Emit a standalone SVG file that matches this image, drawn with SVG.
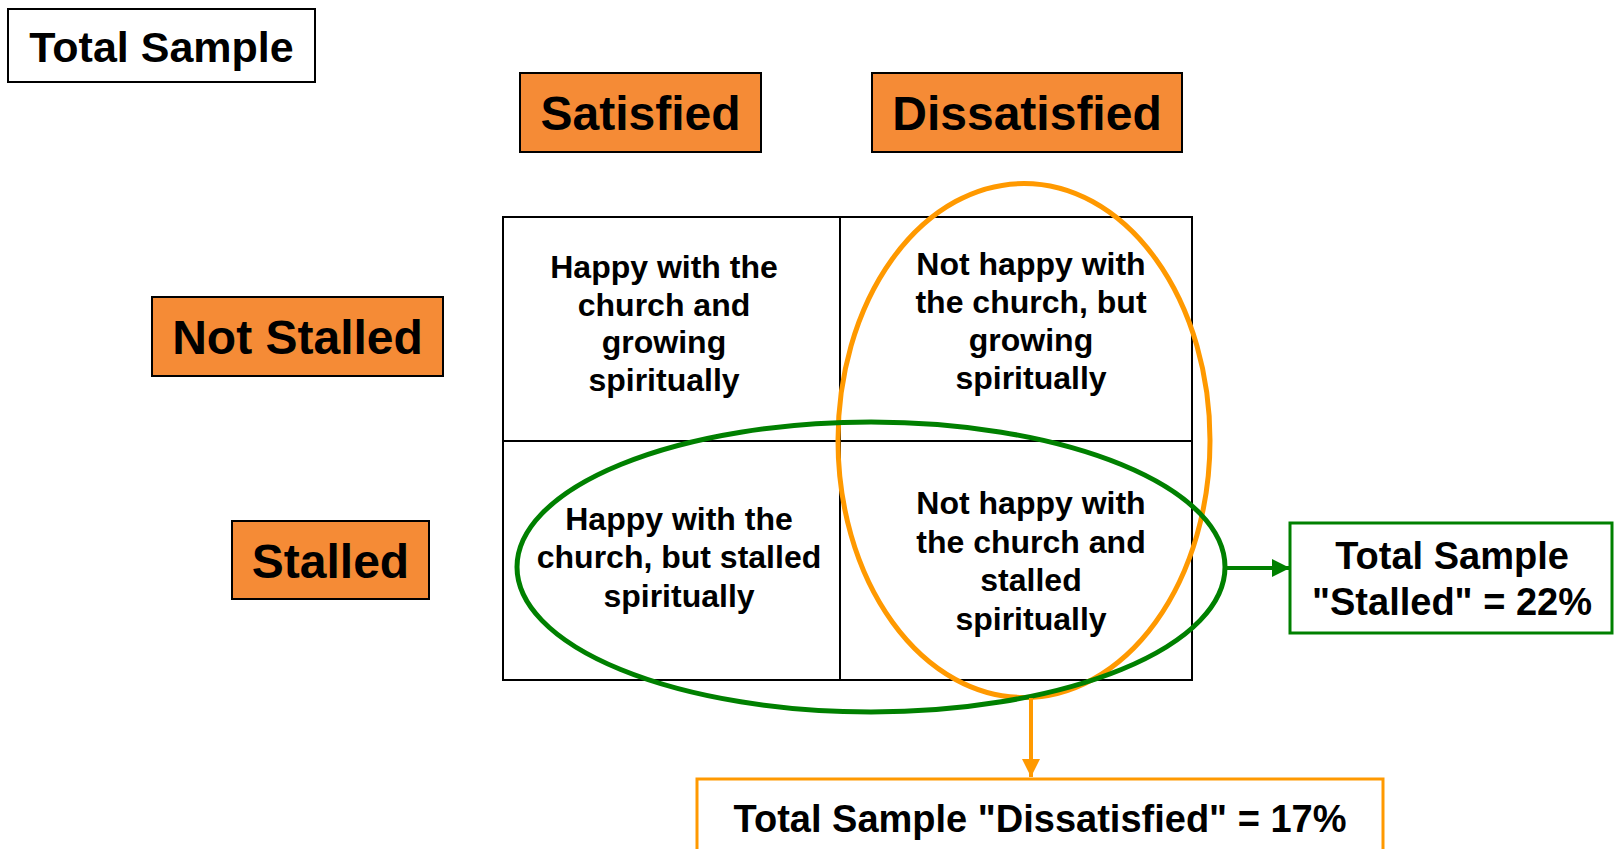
<svg xmlns="http://www.w3.org/2000/svg" width="1614" height="849" viewBox="0 0 1614 849">
<style>
text{font-family:"Liberation Sans",Arial,sans-serif;font-weight:bold;fill:#000;text-anchor:middle}
.hdr{fill:#F58B36;stroke:#000;stroke-width:2}
.hl{font-size:48px}
.cell{font-size:32px}
.tot{font-size:38px}
</style>
<defs>
<marker id="ag" viewBox="0 0 10 10" refX="10" refY="5" markerWidth="4.5" markerHeight="4.5" orient="auto" markerUnits="strokeWidth"><path d="M0,0 L10,5 L0,10 z" fill="#008000"/></marker>
<marker id="ao" viewBox="0 0 10 10" refX="10" refY="5" markerWidth="4.5" markerHeight="4.5" orient="auto" markerUnits="strokeWidth"><path d="M0,0 L10,5 L0,10 z" fill="#FF9900"/></marker>
</defs>
<rect width="1614" height="849" fill="#fff"/>
<g id="title"><rect x="8" y="9" width="307" height="73" fill="#fff" stroke="#000" stroke-width="2"/><text x="161.5" y="62" style="font-size:43px">Total Sample</text></g>
<g id="satisfied"><rect class="hdr" x="520" y="73" width="241" height="79"/><text class="hl" x="640.5" y="130">Satisfied</text></g>
<g id="dissatisfied"><rect class="hdr" x="872" y="73" width="310" height="79"/><text class="hl" x="1027" y="130">Dissatisfied</text></g>
<g id="notstalled"><rect class="hdr" x="152" y="297" width="291" height="79"/><text class="hl" x="297.5" y="354">Not Stalled</text></g>
<g id="stalled"><rect class="hdr" x="232" y="521" width="197" height="78"/><text class="hl" x="330.5" y="578">Stalled</text></g>
<g id="grid">
<rect x="503" y="217" width="689" height="463" fill="none" stroke="#000" stroke-width="2"/>
<line x1="840" y1="217" x2="840" y2="680" stroke="#000" stroke-width="2"/>
<line x1="503" y1="441" x2="1192" y2="441" stroke="#000" stroke-width="2"/>
</g>
<g id="cell-tl"><text class="cell" x="664"><tspan x="664" y="278">Happy with the</tspan><tspan x="664" y="316">church and</tspan><tspan x="664" y="353">growing</tspan><tspan x="664" y="391">spiritually</tspan></text></g>
<g id="cell-tr"><text class="cell" x="1031"><tspan x="1031" y="275">Not happy with</tspan><tspan x="1031" y="313">the church, but</tspan><tspan x="1031" y="351">growing</tspan><tspan x="1031" y="389">spiritually</tspan></text></g>
<g id="cell-bl"><text class="cell" x="679"><tspan x="679" y="530">Happy with the</tspan><tspan x="679" y="568">church, but stalled</tspan><tspan x="679" y="607">spiritually</tspan></text></g>
<g id="cell-br"><text class="cell" x="1031"><tspan x="1031" y="514">Not happy with</tspan><tspan x="1031" y="553">the church and</tspan><tspan x="1031" y="591">stalled</tspan><tspan x="1031" y="630">spiritually</tspan></text></g>
<g id="ellipses">
<ellipse id="orange-ellipse" cx="1024" cy="440.5" rx="186" ry="257" fill="none" stroke="#FF9900" stroke-width="5"/>
<ellipse id="green-ellipse" cx="871" cy="567" rx="354" ry="145" fill="none" stroke="#008000" stroke-width="5"/>
</g>
<g id="connectors">
<line x1="1225" y1="568" x2="1290" y2="568" stroke="#008000" stroke-width="4" marker-end="url(#ag)"/>
<line x1="1031" y1="698" x2="1031" y2="777" stroke="#FF9900" stroke-width="4" marker-end="url(#ao)"/>
</g>
<g id="stalled-total"><rect x="1290" y="523" width="322" height="110" fill="#fff" stroke="#008000" stroke-width="3"/><text class="tot" x="1452"><tspan x="1452" y="569">Total Sample</tspan><tspan x="1452" y="615">"Stalled" = 22%</tspan></text></g>
<g id="dissatisfied-total"><rect x="697" y="779" width="686" height="90" fill="#fff" stroke="#FF9900" stroke-width="3"/><text class="tot" x="1040" y="832">Total Sample "Dissatisfied" = 17%</text></g>
</svg>
